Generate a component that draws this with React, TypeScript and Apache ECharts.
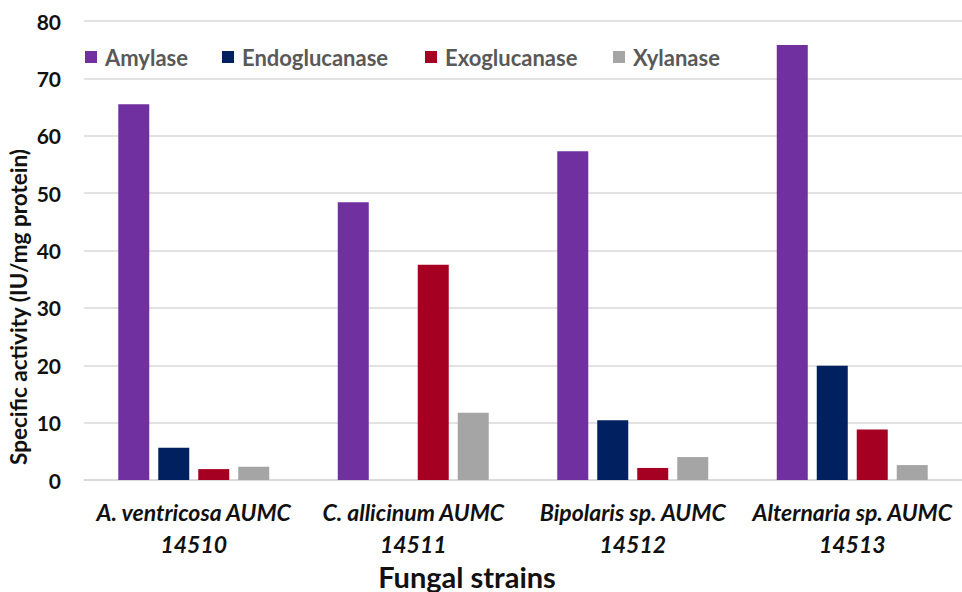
import React, { useEffect, useRef } from "react";
import * as echarts from "echarts";

const categories = [
  "A. ventricosa AUMC\n14510",
  "C. allicinum AUMC\n14511",
  "Bipolaris sp. AUMC\n14512",
  "Alternaria sp. AUMC\n14513",
];
const amylase = [65.5, 48.4, 57.3, 75.8];
const endoglucanase = [5.6, 0, 10.4, 19.9];
const exoglucanase = [1.9, 37.5, 2.1, 8.8];
const xylanase = [2.3, 11.7, 4.0, 2.6];
const seriesNames = ["Amylase", "Endoglucanase", "Exoglucanase", "Xylanase"];
const colors = ["#7030A0", "#002060", "#A50021", "#A5A5A5"];
const legendLefts = [80, 217, 420, 608];

const FONT = "Lato";

export default function App() {
  const ref = useRef<HTMLDivElement>(null);
  useEffect(() => {
    if (!ref.current) return;
    const chart = echarts.init(ref.current, undefined, { renderer: "svg" });
    const data = [amylase, endoglucanase, exoglucanase, xylanase];
    chart.setOption({
      animation: false,
      textStyle: { fontFamily: FONT },
      legend: seriesNames.map((name, i) => ({
        top: 41,
        left: legendLefts[i],
        itemWidth: 12,
        itemHeight: 12,
        icon: "rect",
        textStyle: { color: "#595959", fontSize: 22, fontWeight: "bold", fontFamily: FONT, padding: [0, 0, 0, 3] },
        data: [name],
      })),
      grid: { left: 84, right: 0, top: 21, bottom: 112 },
      xAxis: {
        type: "category",
        data: categories,
        axisLine: { lineStyle: { color: "#D9D9D9", width: 1.5 } },
        axisTick: { show: false },
        axisLabel: {
          color: "#111",
          fontSize: 23,
          fontStyle: "italic",
          fontWeight: "bold",
          fontFamily: FONT,
          lineHeight: 32,
          margin: 16,
          interval: 0,
        },
      },
      yAxis: {
        type: "value",
        min: 0,
        max: 80,
        interval: 10,
        axisLine: { show: false },
        axisTick: { show: false },
        splitLine: { lineStyle: { color: "#D9D9D9", width: 1.5 } },
        axisLabel: { color: "#111", fontSize: 21, fontWeight: "bold", fontFamily: FONT, margin: 23 },
      },
      graphic: [
        {
          type: "text",
          x: 18,
          y: 307,
          rotation: Math.PI / 2,
          style: {
            text: "Specific activity (IU/mg protein)",
            fontSize: 22.5,
            fontWeight: "bold",
            fontFamily: FONT,
            fill: "#111",
            align: "center",
            verticalAlign: "middle",
          },
        },
        {
          type: "text",
          x: 467,
          y: 576,
          style: {
            text: "Fungal strains",
            fontSize: 29,
            fontWeight: "bold",
            fontFamily: FONT,
            fill: "#111",
            align: "center",
            verticalAlign: "middle",
          },
        },
      ],
      series: seriesNames.map((name, i) => ({
        name,
        type: "bar",
        data: data[i],
        barWidth: 31,
        barGap: "29%",
        itemStyle: { color: colors[i] },
      })),
    });
    return () => chart.dispose();
  }, []);
  return <div ref={ref} style={{ width: 962, height: 592, position: "absolute", left: 0, top: 0 }} />;
}
